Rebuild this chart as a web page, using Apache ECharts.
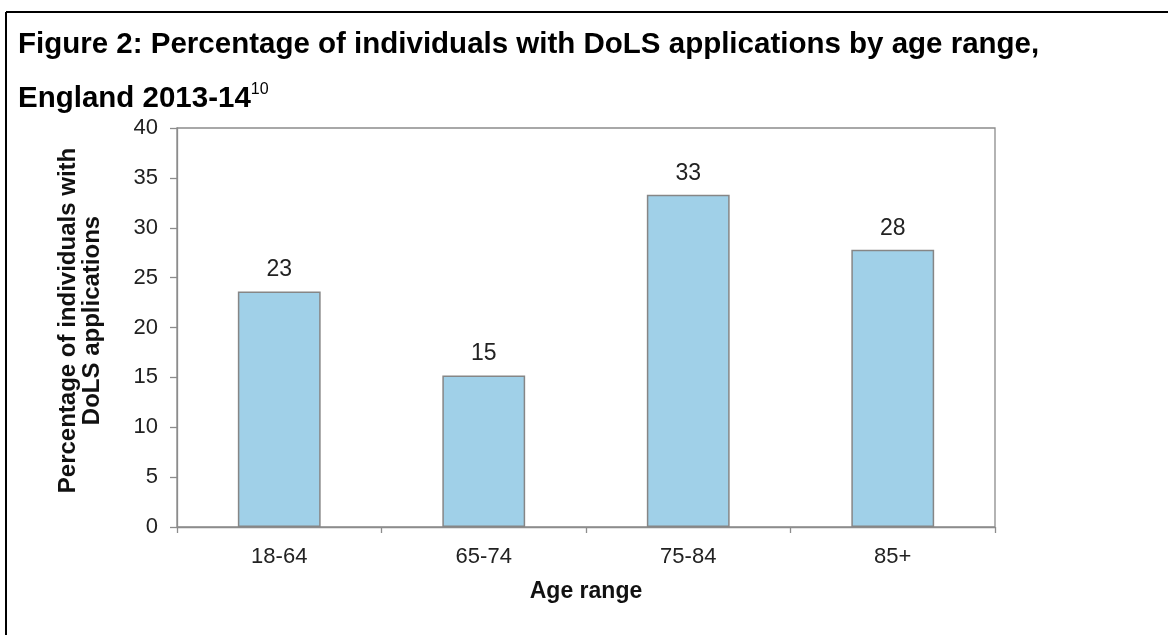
<!DOCTYPE html>
<html>
<head>
<meta charset="utf-8">
<script src="https://cdn.jsdelivr.net/npm/echarts@6/dist/echarts.min.js"></script>
<style>
html,body{margin:0;padding:0;background:#fff;}
#chart{width:1168px;height:635px;}
</style>
</head>
<body>
<div id="chart"></div>
<script>
var categories = ['18-64', '65-74', '75-84', '85+'];
var values = [23.6, 15.2, 33.3, 27.8];
var valueLabels = ['23', '15', '33', '28'];
var yTicks = [0, 5, 10, 15, 20, 25, 30, 35, 40];

var FONT = '"Liberation Sans", Arial, Helvetica, sans-serif';
var chart = echarts.init(document.getElementById('chart'));
chart.setOption({
  animation: false,
  backgroundColor: '#ffffff',
  textStyle: { fontFamily: FONT },
  title: [
    {
      text: 'Figure 2: Percentage of individuals with DoLS applications by age range,',
      left: 13, top: 23,
      textStyle: { fontFamily: FONT, fontSize: 29.5, fontWeight: 'bold', color: '#000', lineHeight: 34 }
    },
    {
      text: '{b|England 2013-14}{s|10}',
      left: 13, top: 77,
      textStyle: {
        fontFamily: FONT,
        rich: {
          b: { fontFamily: FONT, fontSize: 29.5, fontWeight: 'bold', color: '#000', lineHeight: 34 },
          s: { fontFamily: FONT, fontSize: 16, fontWeight: 'normal', color: '#000', lineHeight: 20, verticalAlign: 'top' }
        }
      }
    }
  ],
  graphic: [
    { type: 'line', shape: { x1: 6, y1: 12, x2: 1168, y2: 12 }, style: { stroke: '#000', lineWidth: 2 } },
    { type: 'line', shape: { x1: 6, y1: 12, x2: 6, y2: 635 }, style: { stroke: '#000', lineWidth: 2 } }
  ],
  grid: {
    left: 177, right: 173, top: 128, bottom: 108,
    show: true, borderColor: '#8c8c8c', borderWidth: 1.3, backgroundColor: 'transparent'
  },
  xAxis: {
    type: 'category',
    data: categories,
    boundaryGap: true,
    name: 'Age range',
    nameLocation: 'middle',
    nameGap: 53,
    nameTextStyle: { fontFamily: FONT, fontSize: 23, fontWeight: 'bold', color: '#111' },
    axisLine: { show: true, lineStyle: { color: '#8c8c8c', width: 1.3 } },
    axisTick: { show: true, alignWithLabel: false, length: 6, lineStyle: { color: '#8c8c8c', width: 1.3 } },
    axisLabel: { fontFamily: FONT, fontSize: 22, color: '#222', margin: 19 },
    splitLine: { show: false }
  },
  yAxis: {
    type: 'value',
    min: 0, max: 40, interval: 5,
    name: 'Percentage of individuals with\nDoLS applications',
    nameLocation: 'middle',
    nameGap: 73,
    nameTextStyle: { fontFamily: FONT, fontSize: 24, fontWeight: 'bold', color: '#111', lineHeight: 24, padding: [0, 0, 0, 14] },
    axisLine: { show: true, lineStyle: { color: '#8c8c8c', width: 1.3 } },
    axisTick: { show: true, inside: false, length: 7, lineStyle: { color: '#8c8c8c', width: 1.3 } },
    axisLabel: {
      fontFamily: FONT, fontSize: 22, color: '#222', margin: 19,
      formatter: function (v) { return yTicks.indexOf(v) >= 0 ? String(v) : ''; }
    },
    splitLine: { show: false }
  },
  series: [{
    type: 'bar',
    data: values,
    barWidth: '40.5%',
    itemStyle: { color: '#a0d0e8', borderColor: '#868686', borderWidth: 1.5 },
    label: {
      show: true, position: 'top', distance: 10,
      fontFamily: FONT, fontSize: 23, color: '#222',
      formatter: function (p) { return valueLabels[p.dataIndex]; }
    }
  }]
});
</script>
</body>
</html>
